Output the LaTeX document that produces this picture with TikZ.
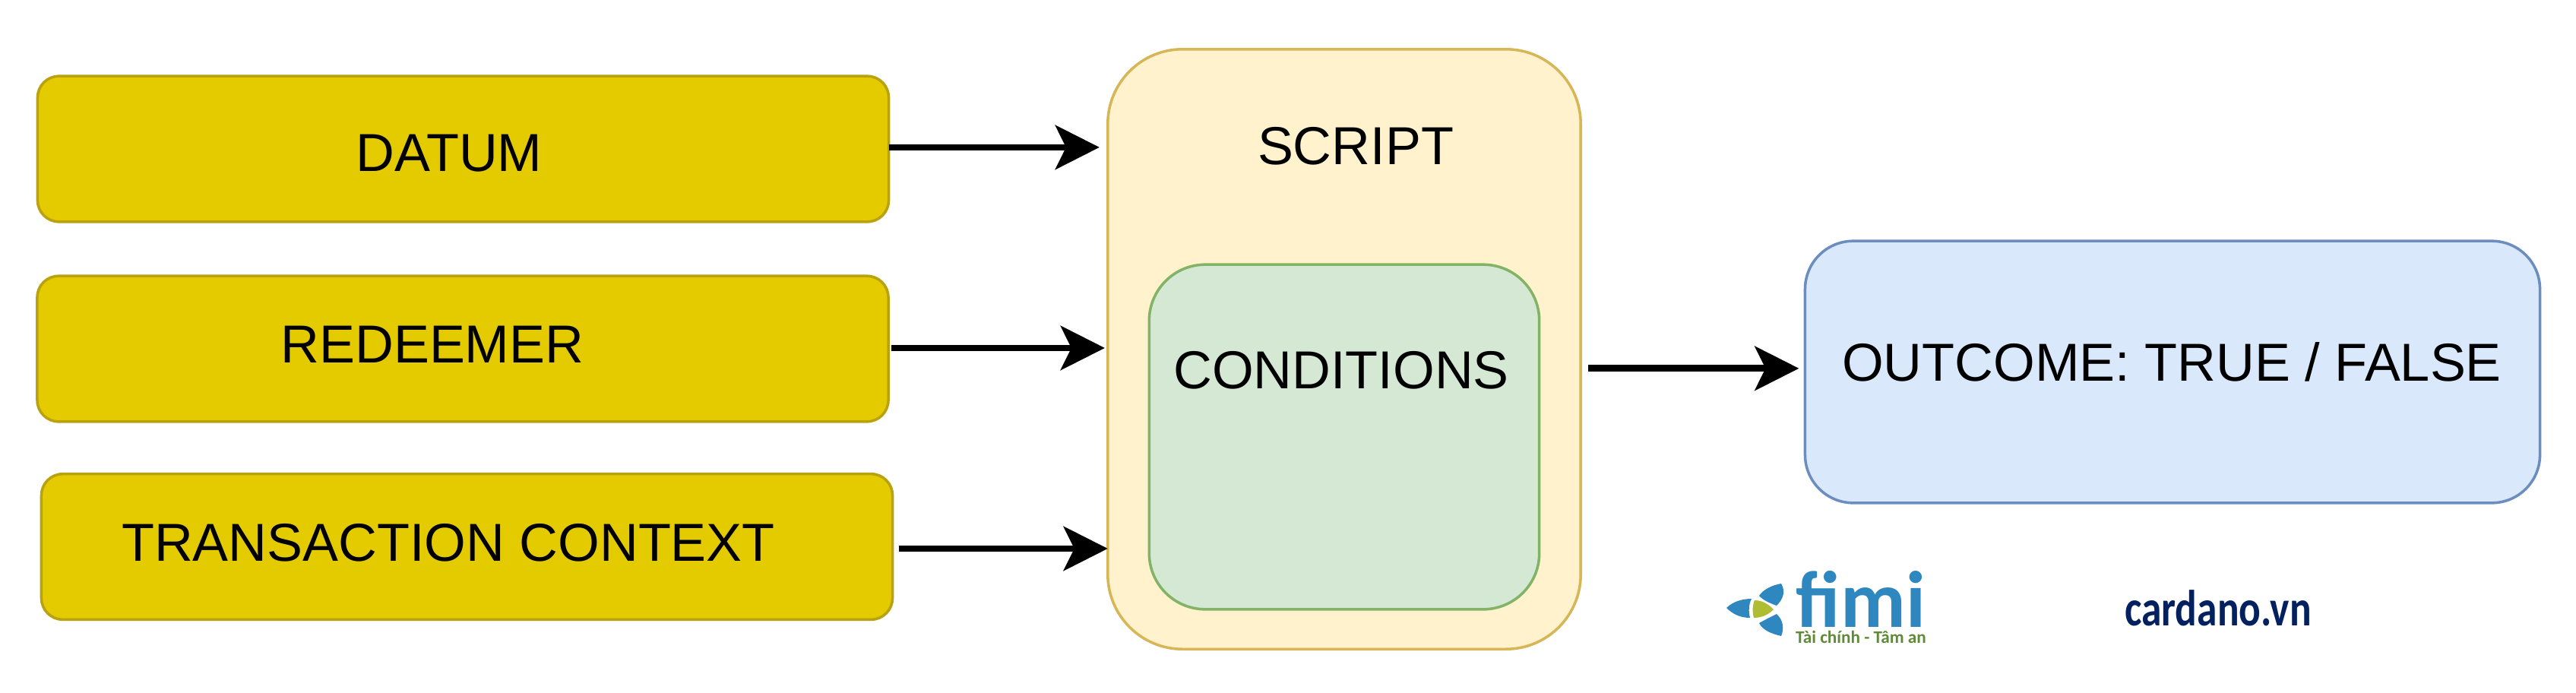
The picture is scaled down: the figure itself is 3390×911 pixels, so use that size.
\documentclass[tikz,border=0pt]{standalone}
\usepackage{fontspec}
\setmainfont{Liberation Sans}
\newfontfamily\logofont{Carlito}
\usetikzlibrary{arrows.meta}
\definecolor{inputfill}{HTML}{E3CB00}
\definecolor{inputline}{HTML}{B9A10F}
\definecolor{scriptfill}{HTML}{FFF2CC}
\definecolor{scriptline}{HTML}{D6B656}
\definecolor{condfill}{HTML}{D5E8D4}
\definecolor{condline}{HTML}{82B366}
\definecolor{outfill}{HTML}{DAE8FC}
\definecolor{outline}{HTML}{6C8EBF}
\definecolor{fimiblue}{HTML}{2E88BF}
\definecolor{fimigreen}{HTML}{B0BC34}
\definecolor{fimitext}{HTML}{5F8A3A}
\definecolor{cardanoblue}{HTML}{03205F}
\tikzset{
  inputbox/.style={draw=inputline,fill=inputfill,line width=1pt,rounded corners=8pt,outer sep=0pt,
    minimum width=318.5pt,minimum height=54.5pt},
  label/.style={font=\fontsize{20}{24}\selectfont,text height=14.4pt,text depth=0pt,inner sep=0pt},
  flow/.style={-{Stealth[length=16.5pt,width=16.5pt,inset=4pt]},line width=2.5pt},
}
\begin{document}
\begin{tikzpicture}[x=0.01cm,y=-0.01cm]
\useasboundingbox (0,0) rectangle (3390,911);
% inputs on the left
\node[inputbox] (datum) at (609.5,196) {};
\node[inputbox] (redeemer) at (609,459) {};
\node[inputbox] (context) at (614.5,719.5) {};
\node[label] (datumtext) at (591,200) {DATUM};
\node[label] (redeemertext) at (569,452) {REDEEMER};
\node[label] (contexttext) at (590,713) {TRANSACTION CONTEXT};

% script with its conditions
\node[draw=scriptline,fill=scriptfill,line width=1pt,rounded corners=28pt,outer sep=0pt,
  minimum width=177pt,minimum height=224.5pt] (script) at (1769,459.5) {};
\node[draw=condline,fill=condfill,line width=1pt,rounded corners=21pt,
  minimum width=146pt,minimum height=129pt] (cond) at (1769,575) {};
\node[label] (scripttext) at (1784,191) {SCRIPT};
\node[label] (condtext) at (1765,486) {CONDITIONS};

% outcome
\node[draw=outline,fill=outfill,line width=1pt,rounded corners=18pt,outer sep=0pt,
  minimum width=275pt,minimum height=98pt] (outcome) at (2859,489.5) {};
\node[label] (outtext) at (2858,476) {OUTCOME: TRUE / FALSE};

% arrows
\draw[flow,shorten >=3.1pt] ([yshift=0.6pt]datum.east) -- ([yshift=0.6pt]datum.east -| script.west);
\draw[flow,shorten <=1.1pt,shorten >=1.1pt] ([yshift=0.3pt]redeemer.east) -- ([yshift=0.3pt]redeemer.east -| script.west);
\draw[flow,shorten <=2.3pt] ([yshift=-0.7pt]context.east) -- ([yshift=-0.7pt]context.east -| script.west);
\draw[flow,shorten <=2.8pt,shorten >=2.3pt] ([yshift=-7.2pt]script.east) -- ([yshift=-7.2pt]script.east -| outcome.west);

% logos
\fill[fimiblue] (2344,768) .. controls (2350,778) and (2347,788) .. (2338,797)
  .. controls (2330,794) and (2320,790) .. (2315,784) .. controls (2320,776) and (2332,770) .. (2344,768) -- cycle;
\fill[fimiblue] (2272,800) .. controls (2280,792) and (2292,788) .. (2305,788)
  .. controls (2301,796) and (2301,805) .. (2303,813) .. controls (2290,813) and (2280,808) .. (2272,800) -- cycle;
\fill[fimigreen] (2309,790) .. controls (2320,790) and (2328,796) .. (2334,802)
  .. controls (2328,808) and (2320,813) .. (2308,813) .. controls (2306,806) and (2306,797) .. (2309,790) -- cycle;
\fill[fimiblue] (2338,808) .. controls (2347,816) and (2348,828) .. (2344,837)
  .. controls (2332,834) and (2320,830) .. (2315,820) .. controls (2322,816) and (2330,812) .. (2338,808) -- cycle;
\node[inner sep=0pt,text=fimiblue,font=\logofont\bfseries\fontsize{30}{30}\selectfont,anchor=base] (fimitext) at (2449,825) {fimi};
\node[inner sep=0pt,text=fimitext,font=\logofont\bfseries\fontsize{6.6}{7}\selectfont,anchor=base] (fimitag) at (2449,846) {Tài chính - Tâm an};
\node[inner sep=0pt,text=cardanoblue,font=\logofont\bfseries\fontsize{19}{19}\selectfont,anchor=base,xscale=0.8] (cardano) at (2919,823) {cardano.vn};
\end{tikzpicture}
\end{document}
